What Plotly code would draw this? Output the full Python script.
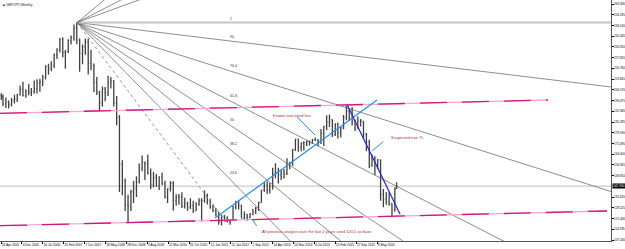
import pandas as pd
import plotly.graph_objects as go

# ---------------- price bars (monthly OHLC) ----------------
bar_months = pd.date_range("2005-05-01", "2016-11-01", freq="MS")
bar_dates = ["2005-04-27"] + [(d + pd.Timedelta(days=14)).strftime("%Y-%m-%d") for d in bar_months] + ["2016-12-04"]

bar_open = [
    203.0,
    202.0, 197.3, 198.4, 197.0, 199.8, 200.5, 203.3, 206.8,
    202.8, 205.6, 204.9, 205.6, 207.4, 211.0, 211.8, 214.7, 222.3, 221.0, 222.9, 229.6,
    233.1, 240.0, 231.2, 231.9, 238.9, 240.9, 247.3, 239.5, 230.7, 235.0, 238.2, 224.1,
    222.5, 211.3, 205.0, 197.8, 207.2, 204.8, 211.2, 212.6, 197.8, 188.4, 157.5, 146.6,
    130.3, 129.3, 139.2, 141.2, 145.6, 155.0, 158.4, 157.6, 151.0, 143.5, 148.6, 142.9,
    149.0, 144.5, 135.7, 141.2, 144.8, 133.3, 135.6, 136.0, 129.5, 131.5, 129.0, 130.0,
    126.6, 131.0, 133.1, 133.4, 136.4, 133.3, 129.0, 126.7, 124.5, 119.4, 122.5, 121.8,
    119.7, 120.4, 129.4, 132.3, 130.3, 121.7, 124.3, 122.4, 124.3, 126.0, 128.0, 132.1,
    140.1, 143.6, 140.2, 142.8, 151.4, 152.2, 150.6, 149.0, 151.0, 158.0, 157.9, 167.2,
    174.0, 168.6, 171.6, 171.8, 172.3, 171.6, 173.3, 173.4, 172.0, 177.7, 182.4, 185.3,
    186.9, 177.0, 184.0, 178.1, 181.5, 188.2, 192.5, 193.5, 186.0, 181.3, 185.8, 185.9,
    177.4, 172.0, 156.8, 161.7, 156.2, 160.3, 137.4, 134.4, 132.7, 131.5, 127.6,
    141.8,
]
bar_high = [
    204.3,
    203.5, 201.5, 199.6, 201.2, 203.4, 204.0, 209.5, 212.0,
    207.0, 210.5, 207.8, 212.8, 213.5, 213.9, 216.5, 222.8, 223.8, 225.5, 230.6, 234.0,
    240.9, 241.3, 233.0, 240.0, 242.5, 249.8, 251.1, 240.5, 236.5, 240.6, 240.5, 233.1,
    224.0, 215.0, 206.0, 208.8, 208.5, 215.9, 215.0, 213.0, 202.5, 190.0, 160.0, 148.0,
    137.2, 140.5, 146.5, 149.5, 157.9, 163.1, 159.2, 163.9, 154.5, 152.5, 151.0, 149.4,
    152.0, 146.4, 141.3, 146.3, 146.2, 137.6, 137.7, 138.9, 135.2, 132.5, 134.9, 133.2,
    132.2, 134.9, 134.9, 140.0, 138.0, 134.5, 131.0, 128.5, 126.0, 124.0, 123.9, 123.0,
    121.0, 129.8, 133.2, 133.5, 130.5, 126.2, 124.5, 125.2, 127.9, 129.3, 132.6, 140.5,
    145.6, 145.9, 145.0, 155.0, 158.0, 155.0, 153.9, 154.2, 161.3, 159.0, 167.4, 174.1,
    174.2, 171.6, 172.6, 173.1, 173.0, 174.1, 175.0, 174.0, 180.7, 182.7, 189.7, 190.3,
    187.0, 184.5, 184.8, 182.2, 190.0, 195.9, 194.3, 195.3, 187.0, 189.0, 187.3, 186.0,
    178.0, 173.5, 163.9, 162.7, 160.9, 160.5, 141.0, 139.0, 138.8, 131.6, 142.0,
    145.4,
]
bar_low = [
    199.8,
    195.9, 194.6, 194.2, 195.5, 197.5, 198.5, 202.8, 202.2,
    201.3, 203.0, 202.5, 204.0, 204.2, 205.3, 209.0, 213.4, 216.6, 218.9, 220.8, 226.9,
    231.3, 228.0, 220.6, 231.0, 236.6, 239.0, 236.8, 218.5, 223.5, 229.7, 216.8, 219.6,
    205.0, 203.2, 192.6, 195.5, 199.0, 202.5, 207.5, 195.5, 183.2, 139.0, 136.8, 126.5,
    118.8, 126.5, 131.7, 135.8, 144.7, 152.8, 146.9, 150.7, 140.9, 142.2, 142.5, 140.3,
    143.5, 134.8, 131.7, 139.3, 126.7, 130.0, 130.6, 128.4, 128.2, 126.6, 127.8, 125.2,
    126.4, 129.9, 119.6, 131.9, 130.7, 128.0, 125.6, 122.9, 117.3, 116.8, 119.6, 118.8,
    117.3, 120.3, 127.5, 127.5, 121.6, 120.6, 120.0, 121.6, 123.7, 124.5, 126.5, 132.0,
    139.0, 137.7, 138.0, 140.6, 148.1, 144.6, 147.0, 147.9, 150.3, 154.0, 156.4, 166.1,
    165.6, 166.0, 166.5, 169.4, 169.8, 171.0, 172.8, 169.5, 170.7, 169.5, 180.0, 182.0,
    175.4, 176.0, 174.4, 175.0, 180.5, 186.4, 186.0, 183.0, 179.4, 181.0, 182.3, 174.8,
    165.9, 154.9, 155.8, 150.2, 154.3, 133.3, 128.9, 130.6, 130.0, 122.4, 126.0,
    141.0,
]
bar_close = [
    202.0,
    197.3, 198.4, 197.0, 199.8, 200.5, 203.3, 206.8, 202.8,
    205.6, 204.9, 205.6, 207.4, 211.0, 211.8, 214.7, 222.3, 221.0, 222.9, 229.6, 233.1,
    240.0, 231.2, 231.9, 238.9, 240.9, 247.3, 239.5, 230.7, 235.0, 238.2, 224.1, 222.5,
    211.3, 205.0, 197.8, 207.2, 204.8, 211.2, 212.6, 197.8, 188.4, 157.5, 146.6, 130.3,
    129.3, 139.2, 141.2, 145.6, 155.0, 158.4, 157.6, 151.0, 143.5, 148.6, 142.9, 149.0,
    144.5, 135.7, 141.2, 144.8, 133.3, 135.6, 136.0, 129.5, 131.5, 129.0, 130.0, 126.6,
    131.0, 133.1, 133.4, 136.4, 133.3, 129.0, 126.7, 124.5, 119.4, 122.5, 121.8, 119.7,
    120.4, 129.4, 132.3, 130.3, 121.7, 124.3, 122.4, 124.3, 126.0, 128.0, 132.1, 140.1,
    143.6, 140.2, 142.8, 151.4, 152.2, 150.6, 149.0, 151.0, 158.0, 157.9, 167.2, 174.0,
    168.6, 171.6, 171.8, 172.3, 171.6, 173.3, 173.4, 172.0, 177.7, 182.4, 185.3, 186.9,
    177.0, 184.0, 178.1, 181.5, 188.2, 192.5, 193.5, 186.0, 181.3, 185.8, 185.9, 177.4,
    172.0, 156.8, 161.7, 156.2, 160.3, 137.4, 134.4, 132.7, 131.5, 127.6, 141.8,
    142.9,
]

# ---------------- axes ----------------
x_range = ["2005-04-13", "2023-03-22"]
y_range = [106.63, 265.98]
x_tick_dates = ["2005-04-24", "2005-12-04", "2006-07-16", "2007-02-25", "2007-10-07", "2008-05-18",
                "2008-12-28", "2009-08-09", "2010-03-21", "2010-10-31", "2011-06-12", "2012-01-22",
                "2012-09-02", "2013-04-14", "2013-11-24", "2014-07-06", "2015-02-15", "2015-09-27",
                "2016-05-08"]
x_tick_text = ["24 Apr 2005", "4 Dec 2005", "16 Jul 2006", "25 Feb 2007", "7 Oct 2007", "18 May 2008",
               "28 Dec 2008", "9 Aug 2009", "21 Mar 2010", "31 Oct 2010", "12 Jun 2011", "22 Jan 2012",
               "2 Sep 2012", "14 Apr 2013", "24 Nov 2013", "6 Jul 2014", "15 Feb 2015", "27 Sep 2015",
               "8 May 2016"]
y_tick_vals = [263.330, 256.235, 249.140, 242.045, 234.950, 227.855, 220.760, 213.665, 206.570,
               199.475, 192.380, 185.285, 178.190, 171.095, 164.000, 156.905, 149.810,
               135.620, 128.525, 121.430, 114.335, 107.240]
y_tick_text = ["%.3f" % v for v in y_tick_vals]

# ---------------- Fibonacci fan ----------------
fan_anchor_date, fan_anchor_price = "2007-07-18", 251.1
fan_point2_date, fan_point2_price = "2011-12-23", 117.2
fan_levels = [0.236, 0.382, 0.5, 0.618, 0.764, 0.91, 1.0, 1.272, 1.382, 1.618]
fan_level_text = {0.236: "23.6", 0.382: "38.2", 0.5: "50", 0.618: "61.8", 0.764: "76.4", 0.91: "90", 1.0: "1"}

# ---------------- drawn trend lines ----------------
upper_pink_dates, upper_pink_prices = ["2005-04-13", "2021-05-15"], [191.06, 199.86]
lower_pink_dates, lower_pink_prices = ["2005-04-13", "2023-02-07"], [116.74, 126.46]
known_tl_dates, known_tl_prices = ["2011-08-06", "2016-05-08"], [121.8, 199.9]
suspected_tl_dates, suspected_tl_prices = ["2015-06-24", "2017-01-09"], [196.5, 124.5]
pointer_known_dates, pointer_known_prices = ["2014-01-02", "2014-07-13"], [188.6, 176.7]
pointer_susp_dates, pointer_susp_prices = ["2016-07-14", "2016-03-18"], [172.3, 166.3]
pointer_base_dates, pointer_base_prices = ["2012-09-13", "2012-10-26"], [120.5, 116.5]

notes_text = ["Known true trend line", "Suspected true TL",
              "All previous analysis over the last 2 years used 120.5 as base"]
notes_dates = ["2013-03-28", "2016-09-13", "2012-11-30"]
notes_prices = [189.9, 174.9, 113.2]

FONT = "Liberation Sans, Arial, sans-serif"

fig = go.Figure()

fig.add_trace(go.Ohlc(
    x=bar_dates, open=bar_open, high=bar_high, low=bar_low, close=bar_close,
    increasing=dict(line=dict(color="#404040", width=1.3)),
    decreasing=dict(line=dict(color="#404040", width=1.3)),
    tickwidth=0.5, showlegend=False, hoverinfo="skip"))

# fan lines
t1 = pd.Timestamp(fan_anchor_date)
t2 = pd.Timestamp(fan_point2_date)
tend = pd.Timestamp(x_range[1])
span = (t2 - t1).days
for lv in fan_levels:
    p_at_2 = fan_point2_price + lv * (fan_anchor_price - fan_point2_price)
    slope = (p_at_2 - fan_anchor_price) / span
    p_end = fan_anchor_price + slope * (tend - t1).days
    if lv == 1.0:
        ln = dict(color="#c6c6c6", width=2.2)
    else:
        ln = dict(color="#5c5c5c", width=0.7)
    fig.add_trace(go.Scatter(x=[t1, tend], y=[fan_anchor_price, p_end], mode="lines",
                             line=ln, showlegend=False, hoverinfo="skip"))
    if lv in fan_level_text:
        fig.add_annotation(x=t2, y=p_at_2, text=fan_level_text[lv], showarrow=False,
                           xanchor="left", yanchor="bottom", yshift=0,
                           font=dict(size=3.6, color="#333333", family=FONT))
fig.add_trace(go.Scatter(x=[t1, t2], y=[fan_anchor_price, fan_point2_price], mode="lines",
                         line=dict(color="#777777", width=0.8, dash="dot"),
                         showlegend=False, hoverinfo="skip"))

# pink channel lines (pink base + magenta dashes)
for dts, prs in [(upper_pink_dates, upper_pink_prices), (lower_pink_dates, lower_pink_prices)]:
    fig.add_trace(go.Scatter(x=dts, y=prs, mode="lines", line=dict(color="#f2a6cf", width=1.3),
                             showlegend=False, hoverinfo="skip"))
    fig.add_trace(go.Scatter(x=dts, y=prs, mode="lines",
                             line=dict(color="#d4157f", width=1.3, dash="27px,15px"),
                             showlegend=False, hoverinfo="skip"))

# blue trend lines
fig.add_trace(go.Scatter(x=known_tl_dates, y=known_tl_prices, mode="lines",
                         line=dict(color="#2a8ef0", width=1.2), showlegend=False, hoverinfo="skip"))
fig.add_trace(go.Scatter(x=suspected_tl_dates, y=suspected_tl_prices, mode="lines",
                         line=dict(color="#2323d8", width=1.2), showlegend=False, hoverinfo="skip"))
for dts, prs in [(pointer_known_dates, pointer_known_prices),
                 (pointer_susp_dates, pointer_susp_prices),
                 (pointer_base_dates, pointer_base_prices)]:
    fig.add_trace(go.Scatter(x=dts, y=prs, mode="lines",
                             line=dict(color="#2a8ef0", width=1), showlegend=False, hoverinfo="skip"))

# text notes
for txt, d, p in zip(notes_text, notes_dates, notes_prices):
    fig.add_annotation(x=d, y=p, text=txt, showarrow=False, xanchor="left", yanchor="middle",
                       font=dict(size=4, color="#b02a2a", family=FONT))

# bid line and price box
last_price = bar_close[-1]
fig.add_shape(type="line", xref="paper", x0=0, x1=1, y0=last_price, y1=last_price,
              line=dict(color="#bdbdbd", width=1), layer="below")
fig.add_annotation(xref="paper", x=1, y=last_price, text="%.3f" % last_price, showarrow=False,
                   xanchor="left", yanchor="middle", xshift=1, bgcolor="#000000", borderpad=0,
                   font=dict(size=3.2, color="#ffffff", family=FONT))

# chart title
fig.add_annotation(xref="paper", yref="paper", x=0, y=1, xshift=4, yshift=-1, text="GBPJPY,Weekly",
                   showarrow=False, xanchor="left", yanchor="top",
                   font=dict(size=3.6, color="#222222", family=FONT))
fig.add_annotation(xref="paper", yref="paper", x=0, y=1, xshift=1, yshift=-1, text="■",
                   showarrow=False, xanchor="left", yanchor="top",
                   font=dict(size=3, color="#000000", family=FONT))

fig.update_layout(
    width=625, height=249,
    margin=dict(l=0, r=14, t=0, b=8),
    paper_bgcolor="white", plot_bgcolor="white",
    font=dict(family=FONT, size=4, color="#000000"),
    showlegend=False,
)
fig.update_xaxes(
    type="date", range=x_range, rangeslider_visible=False,
    tickmode="array", tickvals=x_tick_dates, ticktext=x_tick_text, tickangle=0,
    ticks="outside", ticklen=1.5, tickwidth=0.6, tickcolor="#000000",
    ticklabelposition="outside right", ticklabelstandoff=0,
    tickfont=dict(size=3.2, color="#000000", family=FONT),
    showgrid=False, zeroline=False,
    showline=True, linecolor="#555555", linewidth=1, mirror=True, automargin=False,
)
fig.update_yaxes(
    range=y_range, side="right",
    tickmode="array", tickvals=y_tick_vals, ticktext=y_tick_text,
    ticks="outside", ticklen=1.5, tickwidth=0.6, tickcolor="#000000", ticklabelstandoff=0,
    tickfont=dict(size=3.0, color="#000000", family=FONT),
    showgrid=False, zeroline=False,
    showline=True, linecolor="#555555", linewidth=1, mirror=True, automargin=False,
)

fig.write_html("out.html")
